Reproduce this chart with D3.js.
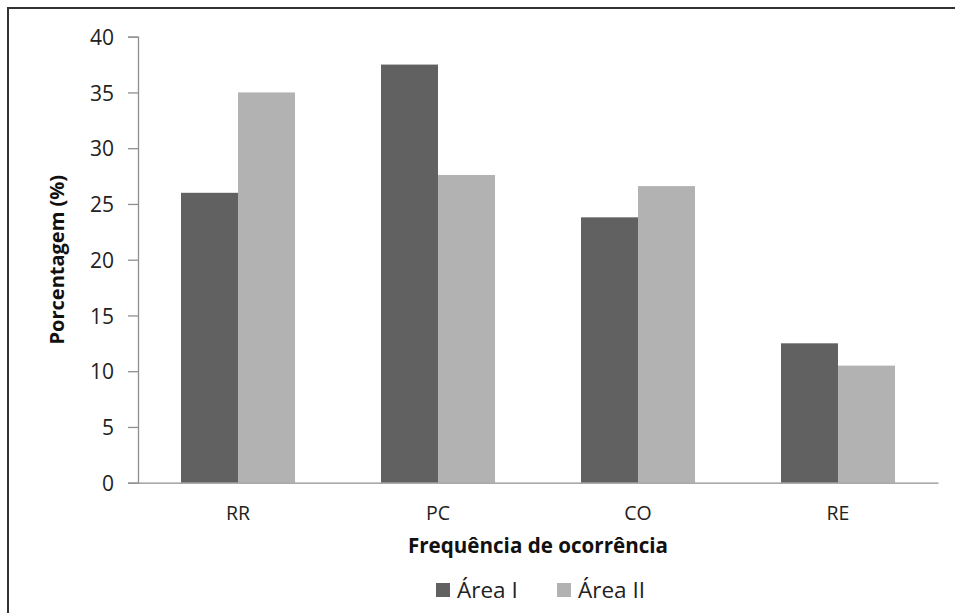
<!DOCTYPE html>
<html>
<head>
<meta charset="utf-8">
<script src="https://cdn.jsdelivr.net/npm/d3@7"></script>
<style>
  html, body { margin: 0; padding: 0; background: #fff; }
  svg { display: block; font-family: "Open Sans", sans-serif; }
</style>
</head>
<body>
<svg id="chart" width="955" height="613"></svg>
<script>
const categories = ["RR", "PC", "CO", "RE"];
const seriesNames = ["Área I", "Área II"];
const areaI = [26.0, 37.5, 23.8, 12.5];
const areaII = [35.0, 27.6, 26.6, 10.5];
const yTicks = [0, 5, 10, 15, 20, 25, 30, 35, 40];
const colors = ["#616161", "#b2b2b2"];

const FONT = "'Open Sans', sans-serif";
const svg = d3.select("#chart");
const W = 955, H = 613;
const m = { left: 138, right: 17, top: 36.7, bottom: 130.3 };

// frame around the chart area (extends past the right/bottom edges)
svg.append("rect")
  .attr("x", 8).attr("y", 8)
  .attr("width", 1000).attr("height", 700)
  .attr("fill", "none").attr("stroke", "#333").attr("stroke-width", 2);

const x = d3.scaleBand().domain(categories)
  .range([m.left, W - m.right]).paddingInner(0.43).paddingOuter(0.215);
const xs = d3.scaleBand().domain(seriesNames).range([0, x.bandwidth()]);
const y = d3.scaleLinear().domain([0, 40]).range([H - m.bottom, m.top]);

const rows = categories.map((c, i) => ({ cat: c, vals: [areaI[i], areaII[i]] }));

// bars
const g = svg.append("g");
rows.forEach(r => {
  r.vals.forEach((v, j) => {
    g.append("rect")
      .attr("x", x(r.cat) + xs(seriesNames[j]))
      .attr("y", y(v))
      .attr("width", xs.bandwidth())
      .attr("height", y(0) - y(v))
      .attr("fill", colors[j]);
  });
});

// y axis
const yAxis = svg.append("g")
  .attr("transform", `translate(${m.left},0)`)
  .call(d3.axisLeft(y).tickValues(yTicks).tickSize(10).tickPadding(14))
  .attr("font-family", FONT).attr("font-size", 21);
yAxis.select(".domain").attr("stroke", "#8f8f8f").attr("stroke-width", 1.3);
yAxis.selectAll(".tick line").attr("stroke", "#8f8f8f").attr("stroke-width", 1.3);
yAxis.selectAll(".tick text").attr("fill", "#222").attr("dy", "0.36em");

// x axis
const xAxis = svg.append("g")
  .attr("transform", `translate(0,${y(0)})`)
  .call(d3.axisBottom(x).tickSize(0).tickPadding(23))
  .attr("font-family", FONT).attr("font-size", 19.5);
xAxis.select(".domain").attr("stroke", "#8f8f8f").attr("stroke-width", 1.3);
xAxis.selectAll(".tick text").attr("fill", "#222");

// axis titles
svg.append("text")
  .attr("x", (m.left + W - m.right) / 2).attr("y", 553)
  .attr("text-anchor", "middle")
  .attr("font-family", FONT).attr("font-size", 20.6).attr("font-weight", "bold")
  .attr("fill", "#111")
  .text("Frequência de ocorrência");

svg.append("text")
  .attr("transform", `translate(64,${(y(0) + y(40)) / 2}) rotate(-90)`)
  .attr("text-anchor", "middle")
  .attr("font-family", FONT).attr("font-size", 20).attr("font-weight", "bold")
  .attr("fill", "#111")
  .text("Porcentagem (%)");

// legend
const legendX = [436, 557];
seriesNames.forEach((s, j) => {
  svg.append("rect")
    .attr("x", legendX[j]).attr("y", 583)
    .attr("width", 14).attr("height", 14)
    .attr("fill", colors[j]);
  svg.append("text")
    .attr("x", legendX[j] + 21).attr("y", 598)
    .attr("font-family", FONT).attr("font-size", 22.5)
    .attr("fill", "#222")
    .text(s);
});
</script>
</body>
</html>
